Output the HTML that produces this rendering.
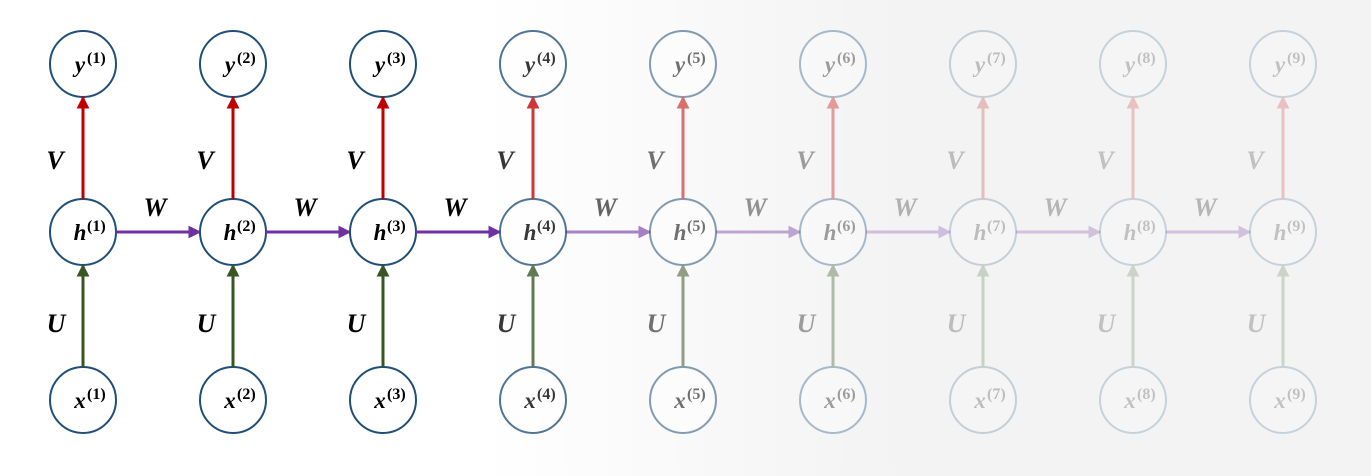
<!DOCTYPE html>
<html><head><style>
html,body{margin:0;padding:0}
body{width:1371px;height:471px;overflow:hidden;background:linear-gradient(to right,#fff 0,#fff 480px,#f3f3f3 900px,#f3f3f3 100%)}
svg text{font-family:"Liberation Serif",serif;font-weight:bold}
</style></head><body>
<svg width="1371" height="471" viewBox="0 0 1371 471" xmlns="http://www.w3.org/2000/svg">
<defs>
<marker id="r" viewBox="0 0 10 10" refX="9" refY="5" markerWidth="13" markerHeight="13" markerUnits="userSpaceOnUse" orient="auto"><path d="M0,0L10,5L0,10z" fill="#c00000"/></marker>
<marker id="g" viewBox="0 0 10 10" refX="9" refY="5" markerWidth="13" markerHeight="13" markerUnits="userSpaceOnUse" orient="auto"><path d="M0,0L10,5L0,10z" fill="#375623"/></marker>
<marker id="p" viewBox="0 0 10 10" refX="9" refY="5" markerWidth="13" markerHeight="13" markerUnits="userSpaceOnUse" orient="auto"><path d="M0,0L10,5L0,10z" fill="#7030a0"/></marker>
</defs>
<g id="cols"></g>
</svg>
<script>
var ops=[1,1,1,0.78,0.55,0.36,0.22,0.2,0.2];
var s='';
for(var i=0;i<9;i++){
 var cx=83+150*i,o=ops[i],n=i+1;
 s+='<g opacity="'+o+'">';
 ['y','h','x'].forEach(function(l,k){
  var cy=[64,232,400][k];
  s+='<circle cx="'+cx+'" cy="'+cy+'" r="33" fill="#fff" stroke="#1f4e79" stroke-width="2"/>';
  s+='<text x="'+(cx-3)+'" y="'+(cy+8)+'" font-size="23" font-style="italic" text-anchor="middle" fill="#000">'+l+'</text>';
  s+='<text x="'+(cx+4)+'" y="'+(cy-1)+'" font-size="16" fill="#000">('+n+')</text>';
 });
 s+='<line x1="'+cx+'" y1="199" x2="'+cx+'" y2="97" stroke="#c00000" stroke-width="3" marker-end="url(#r)"/>';
 s+='<line x1="'+cx+'" y1="367" x2="'+cx+'" y2="265" stroke="#375623" stroke-width="3" marker-end="url(#g)"/>';
 s+='<text x="55" y="169" transform="translate('+(150*i)+',0)" font-size="26" font-style="italic" text-anchor="middle" fill="#000">V</text>';
 s+='<text x="56" y="332" transform="translate('+(150*i)+',0)" font-size="26" font-style="italic" text-anchor="middle" fill="#000">U</text>';
 s+='</g>';
 if(i<8){
  var wo=i<3?1:ops[i+1]+0.05;
  s+='<g opacity="'+wo+'"><line x1="'+(cx+33)+'" y1="232" x2="'+(cx+117)+'" y2="232" stroke="#7030a0" stroke-width="3" marker-end="url(#p)"/>';
  s+='<text x="'+(cx+72)+'" y="216" font-size="26" font-style="italic" text-anchor="middle" fill="#000">W</text></g>';
 }
}
document.getElementById('cols').innerHTML=s;
</script>
</body></html>
